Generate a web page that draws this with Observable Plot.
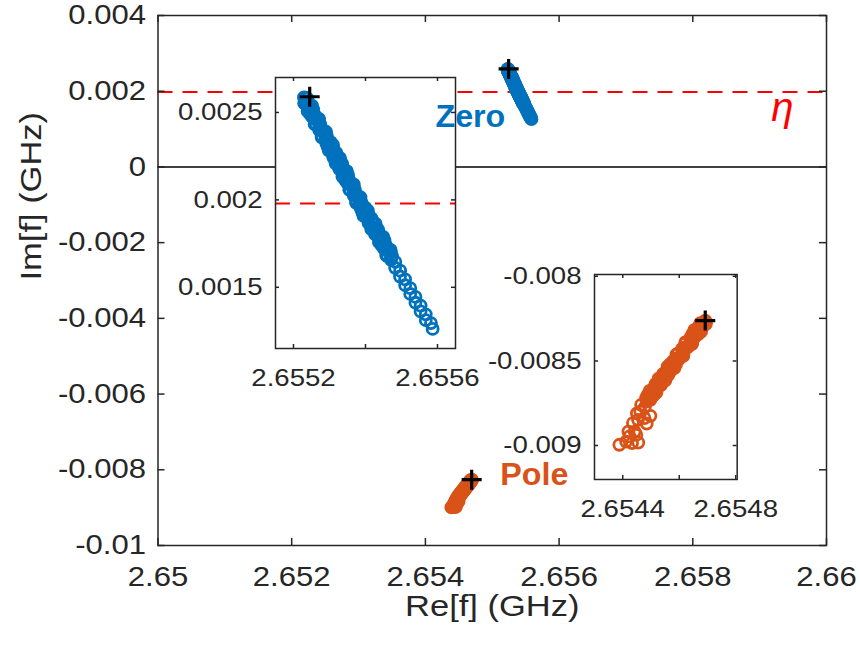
<!DOCTYPE html>
<html>
<head>
<meta charset="utf-8">
<script src="https://cdn.jsdelivr.net/npm/d3@7"></script>
<script src="https://cdn.jsdelivr.net/npm/@observablehq/plot@0.6"></script>
<style>
  body { margin: 0; background: #fff; }
  #chart { position: relative; width: 860px; height: 646px; background: #fff; }
  #chart svg { position: absolute; overflow: visible; }
</style>
</head>
<body>
<div id="chart"></div>
<script>
// Zero trajectory (complex frequency, GHz)
const zeroRe = [
  2.6552290, 2.6552383, 2.6552295, 2.6552418, 2.6552390, 2.6552453, 2.6552546, 2.6552458, 2.6552581, 2.6552554,
  2.6552616, 2.6552708, 2.6552621, 2.6552744, 2.6552716, 2.6552779, 2.6552872, 2.6552784, 2.6552907, 2.6552879,
  2.6552942, 2.6553035, 2.6552947, 2.6553069, 2.6553042, 2.6553105, 2.6553197, 2.6553109, 2.6553231, 2.6553202,
  2.6553264, 2.6553355, 2.6553267, 2.6553389, 2.6553360, 2.6553421, 2.6553513, 2.6553425, 2.6553546, 2.6553517,
  2.6553579, 2.6553671, 2.6553582, 2.6553704, 2.6553676, 2.6553737, 2.6553829, 2.6553740, 2.6553862, 2.6553834,
  2.6553900, 2.6553995, 2.6553911, 2.6554037, 2.6554012, 2.6554077, 2.6554173, 2.6554089, 2.6554214, 2.6554189,
  2.6554255, 2.6554351, 2.6554266, 2.6554392, 2.6554367, 2.6554433, 2.6554528, 2.6554441, 2.6554565, 2.6554539,
  2.6554603, 2.6554696, 2.6554610, 2.6554734, 2.6554708,
  2.6552348, 2.6552321, 2.6552324, 2.6552422, 2.6552515, 2.6552391, 2.6552544, 2.6552516, 2.6552519, 2.6552618,
  2.6552710, 2.6552587, 2.6552739, 2.6552712, 2.6552715, 2.6552813, 2.6552906, 2.6552782, 2.6552935, 2.6552908,
  2.6552910, 2.6553009, 2.6553101, 2.6552978, 2.6553130, 2.6553103, 2.6553105, 2.6553203, 2.6553294, 2.6553170,
  2.6553321, 2.6553293, 2.6553294, 2.6553392, 2.6553484, 2.6553359, 2.6553511, 2.6553482, 2.6553484, 2.6553581,
  2.6553673, 2.6553549, 2.6553700, 2.6553672, 2.6553673, 2.6553771, 2.6553862, 2.6553738, 2.6553890, 2.6553864,
  2.6553870, 2.6553971, 2.6554067, 2.6553946, 2.6554102, 2.6554077, 2.6554083, 2.6554184, 2.6554280, 2.6554159,
  2.6554315, 2.6554290, 2.6554296, 2.6554398, 2.6554493, 2.6554373, 2.6554526, 2.6554500, 2.6554504, 2.6554604,
  2.6554697, 2.6554575, 2.6554729, 2.6554703,
  2.6554828, 2.6554823, 2.6554963, 2.6554958, 2.6555100, 2.6555100, 2.6555244, 2.6555243, 2.6555387, 2.6555387,
  2.6555531, 2.6555530, 2.6555674, 2.6555674, 2.6555818, 2.6555865
];
const zeroIm = [
  0.0025860, 0.0025805, 0.0025540, 0.0025520, 0.0025325, 0.0025235, 0.0025180, 0.0024915, 0.0024895, 0.0024700,
  0.0024610, 0.0024555, 0.0024290, 0.0024270, 0.0024075, 0.0023985, 0.0023930, 0.0023665, 0.0023645, 0.0023450,
  0.0023360, 0.0023305, 0.0023040, 0.0023020, 0.0022825, 0.0022735, 0.0022680, 0.0022415, 0.0022395, 0.0022200,
  0.0022110, 0.0022055, 0.0021790, 0.0021770, 0.0021575, 0.0021485, 0.0021430, 0.0021165, 0.0021145, 0.0020950,
  0.0020860, 0.0020805, 0.0020540, 0.0020520, 0.0020325, 0.0020235, 0.0020180, 0.0019915, 0.0019895, 0.0019700,
  0.0019610, 0.0019555, 0.0019290, 0.0019270, 0.0019075, 0.0018985, 0.0018930, 0.0018665, 0.0018645, 0.0018450,
  0.0018360, 0.0018305, 0.0018040, 0.0018020, 0.0017825, 0.0017735, 0.0017680, 0.0017415, 0.0017395, 0.0017200,
  0.0017110, 0.0017055, 0.0016790, 0.0016770, 0.0016575,
  0.0025847, 0.0025652, 0.0025492, 0.0025444, 0.0025389, 0.0025082, 0.0025097, 0.0024902, 0.0024742, 0.0024694,
  0.0024639, 0.0024332, 0.0024347, 0.0024152, 0.0023992, 0.0023944, 0.0023889, 0.0023582, 0.0023597, 0.0023402,
  0.0023242, 0.0023194, 0.0023139, 0.0022832, 0.0022847, 0.0022652, 0.0022492, 0.0022444, 0.0022389, 0.0022082,
  0.0022097, 0.0021902, 0.0021742, 0.0021694, 0.0021639, 0.0021332, 0.0021347, 0.0021152, 0.0020992, 0.0020944,
  0.0020889, 0.0020582, 0.0020597, 0.0020402, 0.0020242, 0.0020194, 0.0020139, 0.0019832, 0.0019847, 0.0019652,
  0.0019492, 0.0019444, 0.0019389, 0.0019082, 0.0019097, 0.0018902, 0.0018742, 0.0018694, 0.0018639, 0.0018332,
  0.0018347, 0.0018152, 0.0017992, 0.0017944, 0.0017889, 0.0017582, 0.0017597, 0.0017402, 0.0017242, 0.0017194,
  0.0017139, 0.0016832, 0.0016847, 0.0016652,
  0.0016452, 0.0016118, 0.0015952, 0.0015618, 0.0015452, 0.0015118, 0.0014952, 0.0014618, 0.0014452, 0.0014118,
  0.0013952, 0.0013618, 0.0013452, 0.0013118, 0.0012952, 0.0012620
];

// Pole trajectory (complex frequency, GHz)
const poleRe = [
  2.6546920, 2.6546939, 2.6546742, 2.6546798, 2.6546673, 2.6546656, 2.6546675, 2.6546478, 2.6546534, 2.6546409,
  2.6546392, 2.6546411, 2.6546214, 2.6546270, 2.6546145, 2.6546128, 2.6546147, 2.6545950, 2.6546006, 2.6545881,
  2.6545864, 2.6545883, 2.6545686, 2.6545742, 2.6545617, 2.6545600, 2.6545619, 2.6545422, 2.6545478, 2.6545353,
  2.6545336, 2.6545355, 2.6545158, 2.6545214, 2.6545089, 2.6545072, 2.6545091, 2.6544894, 2.6544950, 2.6544825,
  2.6546944, 2.6546819, 2.6546730, 2.6546757, 2.6546776, 2.6546536, 2.6546627, 2.6546502, 2.6546414, 2.6546440,
  2.6546459, 2.6546219, 2.6546310, 2.6546186, 2.6546097, 2.6546123, 2.6546142, 2.6545902, 2.6545994, 2.6545869,
  2.6545780, 2.6545806, 2.6545826, 2.6545586, 2.6545677, 2.6545552, 2.6545463, 2.6545490, 2.6545509, 2.6545269,
  2.6545360, 2.6545235, 2.6545146, 2.6545173, 2.6545192, 2.6544952, 2.6545043, 2.6544918, 2.6544830, 2.6544856,
  2.654507, 2.654498, 2.654478, 2.654465, 2.654485, 2.654462, 2.654477, 2.654498, 2.654454, 2.654436,
  2.654450, 2.654448, 2.654442, 2.654420, 2.654424, 2.654455, 2.654433, 2.654412, 2.654388
];
const poleIm = [
  -0.0082620, -0.0082824, -0.0082776, -0.0083022, -0.0083058, -0.0083220, -0.0083424, -0.0083376, -0.0083622, -0.0083658,
  -0.0083820, -0.0084024, -0.0083976, -0.0084222, -0.0084258, -0.0084420, -0.0084624, -0.0084576, -0.0084822, -0.0084858,
  -0.0085020, -0.0085224, -0.0085176, -0.0085422, -0.0085458, -0.0085620, -0.0085824, -0.0085776, -0.0086022, -0.0086058,
  -0.0086220, -0.0086424, -0.0086376, -0.0086622, -0.0086658, -0.0086820, -0.0087024, -0.0086976, -0.0087222, -0.0087258,
  -0.0082739, -0.0082775, -0.0082853, -0.0083065, -0.0083269, -0.0083171, -0.0083459, -0.0083495, -0.0083573, -0.0083785,
  -0.0083989, -0.0083891, -0.0084179, -0.0084215, -0.0084293, -0.0084505, -0.0084709, -0.0084611, -0.0084899, -0.0084935,
  -0.0085013, -0.0085225, -0.0085429, -0.0085331, -0.0085619, -0.0085655, -0.0085733, -0.0085945, -0.0086149, -0.0086051,
  -0.0086339, -0.0086375, -0.0086453, -0.0086665, -0.0086869, -0.0086771, -0.0087059, -0.0087095, -0.0087173, -0.0087385,
  -0.008706, -0.008730, -0.008775, -0.008759, -0.008870, -0.008799, -0.008838, -0.008824, -0.008848, -0.008867,
  -0.008810, -0.008937, -0.008917, -0.008917, -0.008946, -0.008982, -0.008985, -0.008976, -0.008995
];

// Starting points, marked with a cross
const startRe = [2.655245, 2.654692];
const startIm = [0.002590, -0.008262];

// Threshold
const eta = 0.00198;

// Tick values
const mainXTicks = [2.65, 2.652, 2.654, 2.656, 2.658, 2.66];
const mainYTicks = [0.004, 0.002, 0, -0.002, -0.004, -0.006, -0.008, -0.01];
const zeroXTicks = [2.6552, 2.6554, 2.6556];
const zeroXLabels = [2.6552, 2.6556];
const zeroYTicks = [0.0015, 0.002, 0.0025];
const poleXTicks = [2.6544, 2.6546, 2.6548];
const poleXLabels = [2.6544, 2.6548];
const poleYTicks = [-0.009, -0.0085, -0.008];

const zeroPts = zeroRe.map((re, i) => ({re, im: zeroIm[i]}));
const polePts = poleRe.map((re, i) => ({re, im: poleIm[i]}));
const startPts = startRe.map((re, i) => ({re, im: startIm[i]}));

const FONT = '"Liberation Sans", Arial, Helvetica, sans-serif';
const INK = "#262626";
const BLUE = "#0072BD", ORANGE = "#D95319", RED = "#FF0000";
const fmt = d => String(+d.toFixed(5));

// a thin "+" marker drawn with strokes
const plus = {
  draw(ctx, size) {
    const r = Math.sqrt(size / Math.PI);
    ctx.moveTo(-r, 0); ctx.lineTo(r, 0);
    ctx.moveTo(0, -r); ctx.lineTo(0, r);
  }
};

// inward ticks on all four sides of a box
function boxTicks(xt, yt, len, fw, fh) {
  const o = {stroke: INK, strokeWidth: 1.5};
  return [
    Plot.tickX(xt, {x: d => d, insetTop: fh - len, ...o}),
    Plot.tickX(xt, {x: d => d, insetBottom: fh - len, ...o}),
    Plot.tickY(yt, {y: d => d, insetRight: fw - len, ...o}),
    Plot.tickY(yt, {y: d => d, insetLeft: fw - len, ...o})
  ];
}

function dotMarks() {
  return [
    Plot.dot(zeroPts, {x: "re", y: "im", r: 5.5, stroke: BLUE, strokeWidth: 2.8, fill: "none"}),
    Plot.dot(polePts, {x: "re", y: "im", r: 5.5, stroke: ORANGE, strokeWidth: 2.8, fill: "none"}),
    Plot.dot(startPts, {x: "re", y: "im", r: 10, symbol: plus, stroke: "#000", strokeWidth: 3.2, fill: "none"})
  ];
}

// widen the regular-weight glyphs horizontally around their anchor
function widen(svg, k) {
  for (const t of svg.querySelectorAll("text")) {
    const f = t.closest("[font-weight]") ? 1.04 : k;
    const tr = t.getAttribute("transform") || "";
    t.setAttribute("transform", `${tr} scale(${f},1)`);
  }
  return svg;
}

const style = {fontFamily: FONT, fontSize: "24px", color: INK, background: "transparent", overflow: "visible"};
const chart = document.getElementById("chart");

// main axes: frame 157.5..826 x 15..545
const M = {left: 157.5, right: 34, top: 15, bottom: 101};
const FW = 860 - M.left - M.right, FH = 646 - M.top - M.bottom;
const mainScales = {x: {domain: [2.65, 2.66]}, y: {domain: [-0.01, 0.004]}};

const main = Plot.plot({
  width: 860, height: 646,
  marginLeft: M.left, marginRight: M.right, marginTop: M.top, marginBottom: M.bottom,
  ...mainScales,
  style,
  marks: [
    Plot.ruleY([0], {stroke: "#000", strokeWidth: 1.5}),
    Plot.ruleY([eta], {stroke: RED, strokeWidth: 2, strokeDasharray: "15,10"}),
    ...dotMarks(),
    ...boxTicks(mainXTicks, mainYTicks, 7, FW, FH),
    Plot.frame({stroke: INK, strokeWidth: 1.5}),
    Plot.axisX(mainXTicks, {tickSize: 0, tickPadding: 21, tickFormat: fmt, label: null, fontSize: 27}),
    Plot.axisY(mainYTicks, {tickSize: 0, tickPadding: 12, tickFormat: fmt, label: null, fontSize: 27}),
    Plot.text(["Re[f] (GHz)"], {frameAnchor: "bottom", dy: 70, fontSize: 30, fill: INK}),
    Plot.text(["Im[f] (GHz)"], {frameAnchor: "left", dx: -127, rotate: -90, fontSize: 30, fill: INK})
  ]
});
main.style.left = "0px"; main.style.top = "0px";
chart.appendChild(widen(main, 1.15));

// zoomed insets
function inset({left, top, fw, fh, xDomain, yDomain, xTicks, xLabels, yTicks, showEta}) {
  const m = {left: 120, right: 12, top: 10, bottom: 50};
  const svg = Plot.plot({
    width: m.left + fw + m.right, height: m.top + fh + m.bottom,
    marginLeft: m.left, marginRight: m.right, marginTop: m.top, marginBottom: m.bottom,
    x: {domain: xDomain}, y: {domain: yDomain},
    clip: true,
    style,
    marks: [
      Plot.frame({fill: "#fff", stroke: "none"}),
      ...(showEta ? [Plot.ruleY([eta], {stroke: RED, strokeWidth: 2, strokeDasharray: "15,10"})] : []),
      ...dotMarks(),
      ...boxTicks(xTicks, yTicks, 4, fw, fh),
      Plot.frame({stroke: INK, strokeWidth: 1.5}),
      Plot.axisX(xLabels, {tickSize: 0, tickPadding: 20, tickFormat: fmt, label: null}),
      Plot.axisY(yTicks, {tickSize: 0, tickPadding: 13, tickFormat: fmt, label: null})
    ]
  });
  svg.style.left = `${left - m.left}px`;
  svg.style.top = `${top - m.top}px`;
  chart.appendChild(widen(svg, 1.15));
}

inset({left: 275, top: 77, fw: 180, fh: 271,
  xDomain: [2.65515, 2.65565], yDomain: [0.00115, 0.0027],
  xTicks: zeroXTicks, xLabels: zeroXLabels, yTicks: zeroYTicks, showEta: true});

inset({left: 594, top: 274.3, fw: 142.7, fh: 205,
  xDomain: [2.6543, 2.654805], yDomain: [-0.0092, -0.00799],
  xTicks: poleXTicks, xLabels: poleXLabels, yTicks: poleYTicks, showEta: false});

// annotation layer on top, in the main axes' coordinates
const notes = Plot.plot({
  width: 860, height: 646,
  marginLeft: M.left, marginRight: M.right, marginTop: M.top, marginBottom: M.bottom,
  x: {...mainScales.x, axis: null}, y: {...mainScales.y, axis: null},
  style,
  marks: [
    Plot.text(["Zero"], {x: 2.655195, y: 0.001047, textAnchor: "end", lineAnchor: "bottom",
      fontSize: 31, fontWeight: "bold", fill: BLUE}),
    Plot.text(["Pole"], {x: 2.655120, y: -0.0084, textAnchor: "start", lineAnchor: "bottom",
      fontSize: 31, fontWeight: "bold", fill: ORANGE}),
    Plot.text(["η"], {x: 2.659341, y: 0.001206, textAnchor: "middle", lineAnchor: "bottom",
      fontSize: 40, fontStyle: "italic", fill: RED})
  ]
});
notes.style.left = "0px"; notes.style.top = "0px";
chart.appendChild(widen(notes, 1.0));
</script>
</body>
</html>
